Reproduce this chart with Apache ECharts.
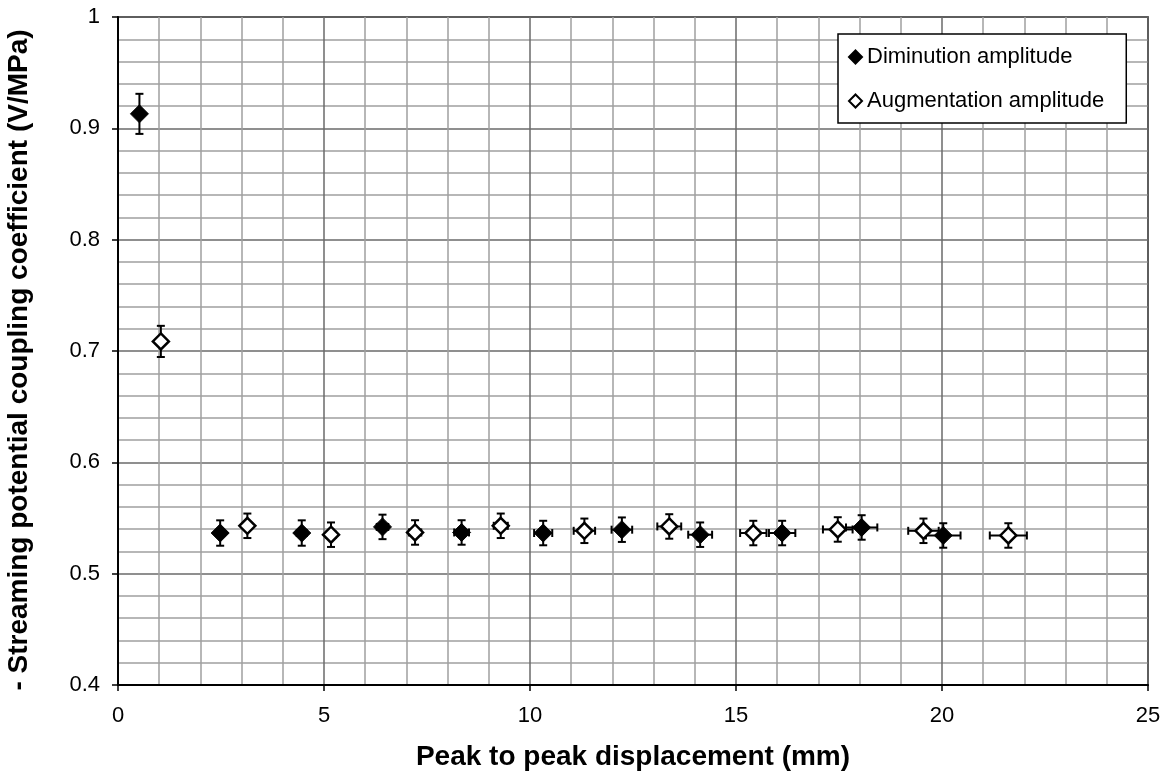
<!DOCTYPE html>
<html>
<head>
<meta charset="utf-8">
<title>Streaming potential coupling coefficient</title>
<script src="https://cdn.jsdelivr.net/npm/echarts@6/dist/echarts.min.js"></script>
<style>
  html, body { margin: 0; padding: 0; background: #fff; }
  #chart { width: 1164px; height: 773px; }
</style>
</head>
<body>
<div id="chart"></div>
<script>
// Diminution amplitude (filled diamonds): x, y, x error, y error
var dimX    = [0.52, 2.48, 4.46, 6.42, 8.34, 10.32, 12.23, 14.13, 16.12, 18.05, 20.03];
var dimY    = [0.913, 0.5365, 0.5365, 0.542, 0.537, 0.5365, 0.5395, 0.535, 0.5365, 0.5415, 0.5343];
var dimXErr = [0, 0.1, 0.12, 0.14, 0.18, 0.22, 0.25, 0.29, 0.32, 0.38, 0.42];
var dimYErr = [0.018, 0.0114, 0.0114, 0.011, 0.011, 0.011, 0.011, 0.011, 0.011, 0.011, 0.011];

// Augmentation amplitude (open diamonds)
var augX    = [1.04, 3.14, 5.17, 7.21, 9.29, 11.32, 13.38, 15.42, 17.47, 19.55, 21.61];
var augY    = [0.7086, 0.543, 0.535, 0.537, 0.543, 0.5385, 0.5424, 0.5365, 0.5397, 0.5385, 0.5343];
var augXErr = [0, 0.1, 0.12, 0.15, 0.17, 0.26, 0.29, 0.32, 0.36, 0.37, 0.45];
var augYErr = [0.014, 0.011, 0.011, 0.011, 0.011, 0.011, 0.011, 0.011, 0.011, 0.011, 0.011];

var font = "'Liberation Sans', Arial, sans-serif";

function points(xs, ys) {
  return xs.map(function (x, i) { return [x, ys[i]]; });
}
function errRows(xs, ys, ex, ey) {
  return xs.map(function (x, i) { return [x, ys[i], ex[i], ey[i]]; });
}

// draws the x and y error bars with caps
function errorBars(params, api) {
  var x = api.value(0), y = api.value(1), dx = api.value(2), dy = api.value(3);
  var cap = 4;
  var style = { stroke: '#000', lineWidth: 2 };
  var kids = [];
  var lo = api.coord([x, y - dy]), hi = api.coord([x, y + dy]);
  kids.push({ type: 'line', shape: { x1: lo[0], y1: lo[1], x2: hi[0], y2: hi[1] }, style: style });
  kids.push({ type: 'line', shape: { x1: lo[0] - cap, y1: lo[1], x2: lo[0] + cap, y2: lo[1] }, style: style });
  kids.push({ type: 'line', shape: { x1: hi[0] - cap, y1: hi[1], x2: hi[0] + cap, y2: hi[1] }, style: style });
  if (dx > 0) {
    var l = api.coord([x - dx, y]), r = api.coord([x + dx, y]);
    kids.push({ type: 'line', shape: { x1: l[0], y1: l[1], x2: r[0], y2: r[1] }, style: style });
    kids.push({ type: 'line', shape: { x1: l[0], y1: l[1] - cap, x2: l[0], y2: l[1] + cap }, style: style });
    kids.push({ type: 'line', shape: { x1: r[0], y1: r[1] - cap, x2: r[0], y2: r[1] + cap }, style: style });
  }
  return { type: 'group', children: kids };
}

var chart = echarts.init(document.getElementById('chart'));
chart.setOption({
  animation: false,
  backgroundColor: '#fff',
  grid: {
    left: 118, right: 16, top: 17, bottom: 88,
    outerBoundsMode: 'none',
    show: true, borderColor: '#000', borderWidth: 1.5
  },
  legend: {
    orient: 'vertical',
    left: 838, top: 34,
    padding: [12, 22, 11, 10],
    itemGap: 22,
    itemWidth: 13, itemHeight: 13,
    backgroundColor: '#fff',
    borderColor: '#000', borderWidth: 1.5,
    textStyle: { fontFamily: font, fontSize: 22, color: '#000' },
    data: ['Diminution amplitude', 'Augmentation amplitude']
  },
  xAxis: {
    type: 'value',
    min: 0, max: 25, interval: 5,
    name: 'Peak to peak displacement (mm)',
    nameLocation: 'middle',
    nameGap: 58,
    nameTextStyle: { fontFamily: font, fontWeight: 'bold', fontSize: 28, color: '#000' },
    axisLine: { show: true, lineStyle: { color: '#000', width: 2 } },
    axisTick: { show: true, length: 6, lineStyle: { color: '#000', width: 1.5 } },
    minorTick: { show: false, splitNumber: 5 },
    axisLabel: { fontFamily: font, fontSize: 22, color: '#000', margin: 20 },
    splitLine: { show: true, lineStyle: { color: '#6a6a6a', width: 1.5 } },
    minorSplitLine: { show: true, lineStyle: { color: '#a0a0a0', width: 1.5 } }
  },
  yAxis: {
    type: 'value',
    min: 0.4, max: 1, interval: 0.1,
    name: '- Streaming potential coupling coefficient (V/MPa)',
    nameLocation: 'middle',
    nameGap: 85,
    nameTextStyle: {
      fontFamily: font, fontWeight: 'bold', fontSize: 28, color: '#000',
      padding: [0, 18, 0, 0]
    },
    axisLine: { show: true, lineStyle: { color: '#000', width: 2 } },
    axisTick: { show: true, length: 6, lineStyle: { color: '#000', width: 1.5 } },
    minorTick: { show: false, splitNumber: 5 },
    axisLabel: { fontFamily: font, fontSize: 22, color: '#000', margin: 18 },
    splitLine: { show: true, lineStyle: { color: '#6a6a6a', width: 1.5 } },
    minorSplitLine: { show: true, lineStyle: { color: '#a0a0a0', width: 1.5 } }
  },
  series: [
    {
      name: 'dimErr',
      type: 'custom',
      renderItem: errorBars,
      encode: { x: 0, y: 1 },
      data: errRows(dimX, dimY, dimXErr, dimYErr),
      z: 2,
      silent: true
    },
    {
      name: 'augErr',
      type: 'custom',
      renderItem: errorBars,
      encode: { x: 0, y: 1 },
      data: errRows(augX, augY, augXErr, augYErr),
      z: 2,
      silent: true
    },
    {
      name: 'Diminution amplitude',
      type: 'scatter',
      symbol: 'diamond',
      symbolSize: 18,
      itemStyle: { color: '#000', borderColor: '#000', borderWidth: 1, opacity: 1 },
      data: points(dimX, dimY),
      z: 3
    },
    {
      name: 'Augmentation amplitude',
      type: 'scatter',
      symbol: 'diamond',
      symbolSize: 16,
      itemStyle: { color: '#fff', borderColor: '#000', borderWidth: 2.5, opacity: 1 },
      data: points(augX, augY),
      z: 3
    }
  ]
});
</script>
</body>
</html>
